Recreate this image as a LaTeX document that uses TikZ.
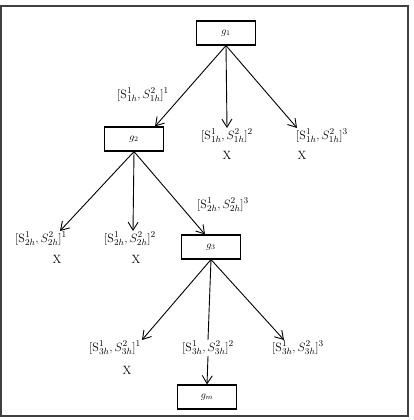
\documentclass[tikz,border=0pt]{standalone}
\usetikzlibrary{arrows.meta}
\begin{document}
\begin{tikzpicture}[x=1pt,y=-1pt,
  box/.style={rectangle,draw=black,line width=1.1pt,minimum width=59pt,minimum height=24pt,inner sep=0pt},
  lbl/.style={inner sep=1pt,font=\fontsize{13}{15}\selectfont},
  cross/.style={inner sep=1pt,font=\large},
  arr/.style={-{Straight Barb[length=8pt,width=10pt]},line width=0.9pt}]
\useasboundingbox (0,0) rectangle (413,420);
\draw[line width=1.2pt,black!75](1,6) rectangle (408,416);

\node[box](g1) at (226,33){$g_1$};
\node[box](g2) at (134,139){$g_2$};
\node[box](g3) at (211,247){$g_3$};
\node[box](gm) at (207,397){$g_m$};

\node[lbl](l11) at (143,95){$[\mathrm{S}^1_{1h},S^2_{1h}]^1$};
\node[lbl](l12) at (227,136){$[\mathrm{S}^1_{1h},S^2_{1h}]^2$};
\node[lbl](l13) at (322,136){$[\mathrm{S}^1_{1h},S^2_{1h}]^3$};
\node[lbl](l21) at (41,239){$[\mathrm{S}^1_{2h},S^2_{2h}]^1$};
\node[lbl](l22) at (130,239){$[\mathrm{S}^1_{2h},S^2_{2h}]^2$};
\node[lbl](l23) at (223,205){$[\mathrm{S}^1_{2h},S^2_{2h}]^3$};
\node[lbl](l31) at (115,348){$[\mathrm{S}^1_{3h},S^2_{3h}]^1$};
\node[lbl](l32) at (208,348){$[\mathrm{S}^1_{3h},S^2_{3h}]^2$};
\node[lbl](l33) at (298,348){$[\mathrm{S}^1_{3h},S^2_{3h}]^3$};

\node[cross](x12) at (227,155){X};
\node[cross](x13) at (302,155){X};
\node[cross](x21) at (57,259){X};
\node[cross](x22) at (136,259){X};
\node[cross](x31) at (127,370){X};

\draw[arr](g1.south)--([xshift=21pt]g2.north);
\draw[arr](g1.south)--(l12.north);
\draw[arr](g1.south)--([xshift=2pt]l13.north west);

\draw[arr](g2.south)--([xshift=-8pt]l21.north east);
\draw[arr](g2.south)--([xshift=3pt]l22.north);
\draw[arr](g2.south)--([xshift=-6pt]g3.north);

\draw[arr](g3.south)--(l31.north east);
\draw[line width=0.9pt](g3.south)--(l32.north);
\draw[arr](l32.south)--(gm.north);
\draw[arr](g3.south)--([xshift=13pt]l33.north west);
\end{tikzpicture}
\end{document}
